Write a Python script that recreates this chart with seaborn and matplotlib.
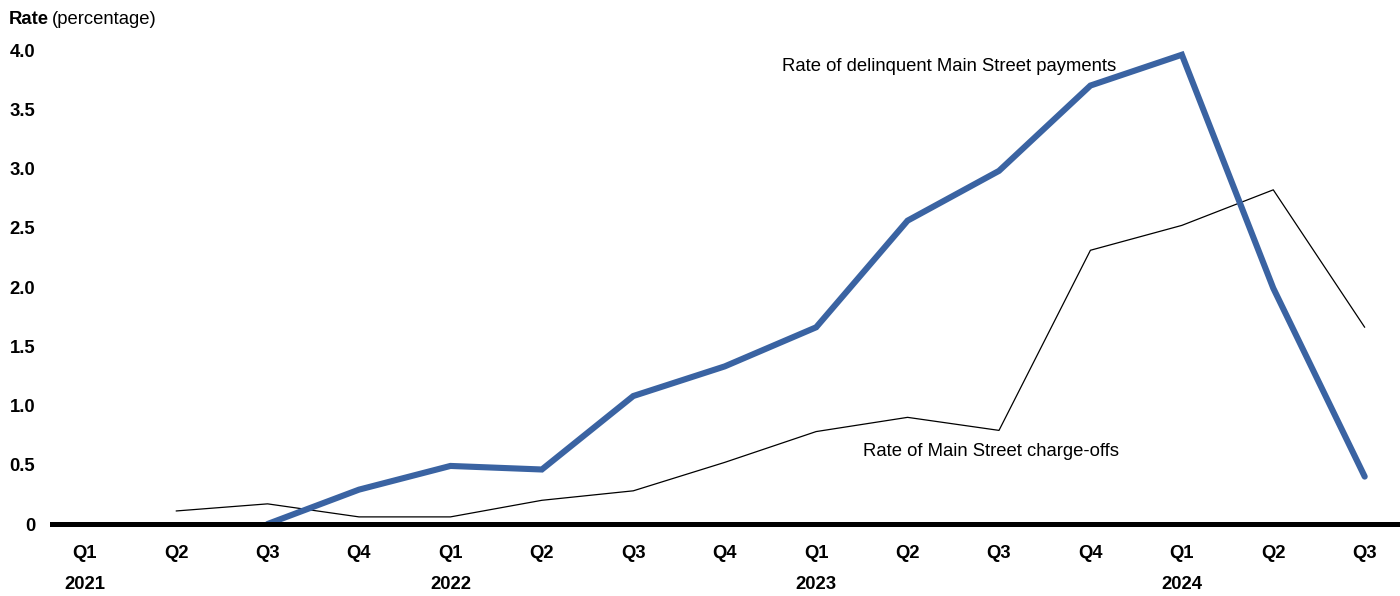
import numpy as np
import pandas as pd
import seaborn as sns
import matplotlib.pyplot as plt
import matplotlib.transforms as mtransforms

# Quarterly series, Q1 2021 through Q3 2024
quarters = ["Q1", "Q2", "Q3", "Q4", "Q1", "Q2", "Q3", "Q4",
            "Q1", "Q2", "Q3", "Q4", "Q1", "Q2", "Q3"]
years = ["2021", "2022", "2023", "2024"]
year_positions = [0, 4, 8, 12]

delinquent = [np.nan, np.nan, 0.0, 0.29, 0.49, 0.46, 1.08, 1.33,
              1.66, 2.56, 2.98, 3.70, 3.96, 1.99, 0.40]
charge_offs = [np.nan, 0.11, 0.17, 0.06, 0.06, 0.20, 0.28, 0.52,
               0.78, 0.90, 0.79, 2.31, 2.52, 2.82, 1.66]

y_ticks = [0, 0.5, 1.0, 1.5, 2.0, 2.5, 3.0, 3.5, 4.0]
y_tick_labels = ["0", "0.5", "1.0", "1.5", "2.0", "2.5", "3.0", "3.5", "4.0"]

sns.set_style("white")
plt.rcParams["font.family"] = ["Liberation Sans", "DejaVu Sans"]
plt.rcParams["text.color"] = "black"
plt.rcParams["xtick.color"] = "black"
plt.rcParams["ytick.color"] = "black"

FS = 13.3

idx = np.arange(len(quarters))
df = pd.DataFrame({"idx": idx, "delinquent": delinquent, "charge_offs": charge_offs})

fig = plt.figure(figsize=(14, 5.96), dpi=100)
ax = fig.add_axes([0.037, 0.1208, 0.9613, 0.7953])

sns.lineplot(data=df, x="idx", y="charge_offs", ax=ax, color="black",
             linewidth=0.9, clip_on=False)
sns.lineplot(data=df, x="idx", y="delinquent", ax=ax, color="#3A63A2",
             linewidth=4.4, clip_on=False, solid_joinstyle="miter")

ax.set_xlim(-0.36, 14.36)
ax.set_ylim(0, 4.0)
ax.set_xlabel("")
ax.set_ylabel("")

for side in ["top", "right", "left"]:
    ax.spines[side].set_visible(False)
ax.spines["bottom"].set_linewidth(3.6)
ax.spines["bottom"].set_color("black")
ax.spines["bottom"].set_zorder(5)

ax.set_yticks(y_ticks)
ax.set_yticklabels(y_tick_labels, fontsize=FS, fontweight="bold")
ax.tick_params(axis="y", length=0, pad=12)

ax.set_xticks(idx)
ax.set_xticklabels(quarters, fontsize=FS, fontweight="bold")
ax.tick_params(axis="x", length=0, pad=15)

trans = mtransforms.blended_transform_factory(ax.transData, ax.transAxes)
for pos, yr in zip(year_positions, years):
    ax.annotate(yr, xy=(pos, 0), xycoords=trans, xytext=(0, -43.5),
                textcoords="offset points", ha="center", va="center",
                fontsize=FS, fontweight="bold")

fig.text(0.006, 0.967, "Rate", fontsize=FS, fontweight="bold", va="center")
fig.text(0.0370, 0.967, "(percentage)", fontsize=FS, va="center")

ax.text(9.46, 3.865, "Rate of delinquent Main Street payments", fontsize=FS,
        ha="center", va="center")
ax.text(9.91, 0.615, "Rate of Main Street charge-offs", fontsize=FS,
        ha="center", va="center")

fig.savefig("out.png", dpi=100, facecolor="white")
